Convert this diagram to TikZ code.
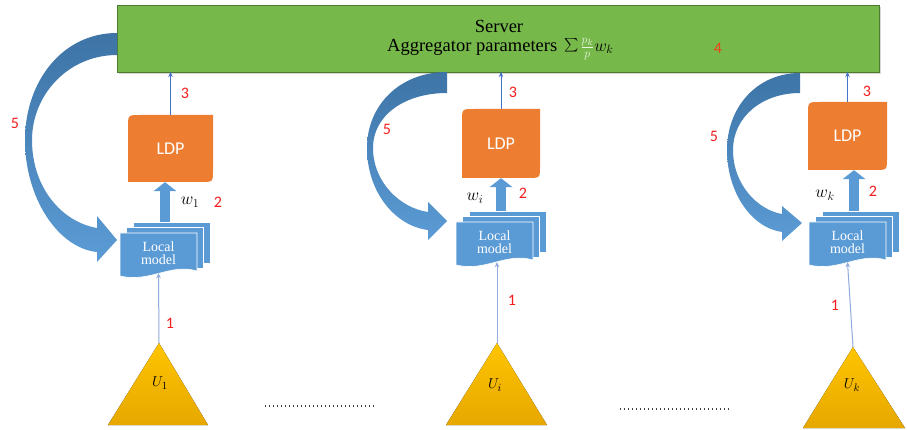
\documentclass[tikz,border=0pt]{standalone}
\usepackage{fontspec}
\setmainfont{Liberation Serif}
\newfontfamily\carl{Carlito}
\usetikzlibrary{arrows.meta,shadows}
\definecolor{srvgreen}{HTML}{77B84B}
\definecolor{srvborder}{HTML}{4E7A30}
\definecolor{ldporange}{HTML}{ED7D31}
\definecolor{docblue}{HTML}{5B9BD5}
\definecolor{arrowblue}{HTML}{4472C4}
\definecolor{lightarrow}{HTML}{8FAADC}
\definecolor{gold}{HTML}{FFC400}
\definecolor{goldlow}{HTML}{E6A800}
\definecolor{lblred}{HTML}{F41E1E}
\definecolor{fourred}{HTML}{F0401A}
\definecolor{curvetop}{HTML}{3E74A6}
\definecolor{curvebot}{HTML}{5B9BD5}
\definecolor{fracgreen}{HTML}{EAF6DE}
\definecolor{dotgray}{HTML}{404040}
\tikzset{
  numlbl/.style={text=lblred, font=\carl\fontsize{16}{16}\selectfont, inner sep=0pt},
  ldptext/.style={text=white, font=\carl\fontsize{18}{18}\selectfont, inner sep=0pt},
  lmtext/.style={text=white, font=\fontsize{14}{13.5}\selectfont, align=center, inner sep=0pt},
  srvtext/.style={font=\fontsize{18.5}{18.5}\selectfont, inner sep=0pt},
  wlbl/.style={font=\fontsize{18}{18}\selectfont, inner sep=0pt},
  ulbl/.style={font=\fontsize{15}{15}\selectfont, inner sep=0pt},
  thinarrow/.style={draw=arrowblue, line width=0.8pt, -{Stealth[length=5pt,width=4.5pt]}},
  lowarrow/.style={draw=lightarrow, line width=1pt, -{Stealth[length=5pt,width=4.5pt]}},
  fatarrow/.style={draw=docblue, line width=10pt, -{Triangle[length=9pt,width=23pt,line width=0pt]}},
  curvearrow/.style={top color=curvetop, bottom color=curvebot, draw=none},
  dotline/.style={draw=dotgray, line width=1.5pt, dash pattern=on 1.4pt off 2.6pt},
  tri/.style={top color=gold, bottom color=goldlow, draw=none},
  docpage/.style={fill=docblue, draw=white, line width=0.6pt},
  boxnode/.style={inner sep=0pt, outer sep=0pt}
}
\newcommand\ldpshape[4]{%
  \fill[ldporange] (#1,#4) -- (#1,#2+12) .. controls (#1,#2) .. (#1+12,#2) -- (#3,#2) -- (#3,#4-12) .. controls (#3,#4) .. (#3-12,#4) -- cycle;}
\newcommand\lmgroup[3]{%
  \begin{scope}[shift={(#2,#3)}]
    \filldraw[docpage] (13,-11) rectangle (90,30);
    \filldraw[docpage] (6.5,-5.5) rectangle (83.5,35);
    \filldraw[docpage] (0,0) -- (77,0) -- (77,38) .. controls (50,30) and (30,50) .. (0,43) -- cycle;
    \node[lmtext, minimum width=77pt, minimum height=40pt] (#1f) at (38.5,20) {Local\\model};
    \node[boxnode, minimum width=90pt, minimum height=51pt] (#1) at (45,14.5) {};
  \end{scope}}
\begin{document}
\begin{tikzpicture}[x=1pt,y=-1pt]
\fill[white] (0,0) rectangle (907,430);
\useasboundingbox (0,0) rectangle (907,430);

% server
\node[boxnode, draw=srvborder, fill=srvgreen, line width=0.8pt, minimum width=762pt, minimum height=67pt,
      drop shadow={opacity=0.3, shadow xshift=1.5pt, shadow yshift=-2pt}] (server) at (498.5,38.5) {};
\node[srvtext] (srvname) at (499,26) {Server};
\node[srvtext, anchor=west] (srvagg) at (387,49) {Aggregator parameters\hspace{7pt}\raisebox{-0.5pt}{\scalebox{1.35}{$\sum$}}\hspace{2pt}$\textcolor{fracgreen}{\frac{p_k}{p}}w_k$};
\node[numlbl, text=fourred] (n4) at (718,48) {4};

% curved arrows (step 5)
\path[curvearrow] (117,33) .. controls (62,33) and (25,82) .. (25,140) .. controls (25,198) and (58,248) .. (97,252)
  -- (97,262) -- (117,240) -- (97,216) -- (97,228)
  .. controls (62,222) and (32,188) .. (32,140) .. controls (32,95) and (68,55) .. (117,55) -- cycle;
\path[curvearrow] (447,72) .. controls (400,72) and (367,105) .. (367,148) .. controls (367,192) and (395,226) .. (428,230)
  -- (428,240) -- (447,221) -- (428,202) -- (428,212)
  .. controls (400,208) and (373,182) .. (373,148) .. controls (373,115) and (405,93) .. (447,93) -- cycle;
\path[curvearrow] (800,73) .. controls (757,73) and (727,107) .. (727,150) .. controls (727,193) and (752,228) .. (782,232)
  -- (782,241) -- (802,223) -- (782,206) -- (782,214)
  .. controls (758,210) and (733,185) .. (733,150) .. controls (733,117) and (762,93) .. (800,93) -- cycle;
\node[numlbl] (n5a) at (15,123) {5};
\node[numlbl] (n5b) at (387,129) {5};
\node[numlbl] (n5c) at (714,136) {5};

% column 1
\ldpshape{128}{115}{213}{182}
\node[ldptext, minimum width=85pt, minimum height=67pt] (ldp1) at (170.5,148.5) {LDP};
\lmgroup{lm1}{120}{233}
\draw[fatarrow] (lm1.north) -- (lm1.north |- ldp1.south);
\draw[thinarrow] (ldp1.north) -- (ldp1.north |- server.south);
\fill[tri] (159,343) -- (208,425) -- (108,425) -- cycle;
\coordinate (u1top) at (159,343);
\node[ulbl] (u1) at (160,383) {$U_1$};
\draw[lowarrow] (u1top) -- (lm1f.south);
\node[numlbl] (n3a) at (185,93) {3};
\node[wlbl] (w1) at (190,202) {$w_1$};
\node[numlbl] (n2a) at (218,202) {2};
\node[numlbl] (n1a) at (170,323) {1};

% column 2
\ldpshape{462}{109}{540}{178}
\node[ldptext, minimum width=78pt, minimum height=69pt] (ldp2) at (501,143.5) {LDP};
\lmgroup{lm2}{456}{222}
\draw[fatarrow] (lm2.north) -- (lm2.north |- ldp2.south);
\draw[thinarrow] (ldp2.north) -- (ldp2.north |- server.south);
\fill[tri] (497,343) -- (547,425) -- (446,425) -- cycle;
\coordinate (u2top) at (497,343);
\node[ulbl] (u2) at (495,385) {$U_i$};
\draw[lowarrow] (u2top) -- (u2top |- lm2f.south);
\node[numlbl] (n3b) at (513,92) {3};
\node[wlbl] (w2) at (475,198) {$w_i$};
\node[numlbl] (n2b) at (523,193) {2};
\node[numlbl] (n1b) at (512,300) {1};

% column 3
\ldpshape{808}{102}{887}{170}
\node[ldptext, minimum width=79pt, minimum height=68pt] (ldp3) at (847.5,136) {LDP};
\lmgroup{lm3}{809}{222}
\draw[fatarrow] (lm3.north) -- (lm3.north |- ldp3.south);
\draw[thinarrow] (ldp3.north) -- (ldp3.north |- server.south);
\fill[tri] (853,347) -- (905,428) -- (803,428) -- cycle;
\coordinate (u3top) at (853,347);
\node[ulbl] (u3) at (852,385) {$U_k$};
\draw[lowarrow] (u3top) -- (lm3f.south);
\node[numlbl] (n3c) at (867,91) {3};
\node[wlbl] (w3) at (825,195) {$w_k$};
\node[numlbl] (n2c) at (873,191) {2};
\node[numlbl] (n1c) at (835,305) {1};

% ellipses between users
\coordinate (dotsAstart) at (265,406);
\coordinate (dotsAend) at (375,406);
\coordinate (dotsBstart) at (620,409);
\coordinate (dotsBend) at (730,409);
\draw[dotline] (dotsAstart) -- (dotsAend);
\draw[dotline] (dotsBstart) -- (dotsBend);
\end{tikzpicture}
\end{document}
